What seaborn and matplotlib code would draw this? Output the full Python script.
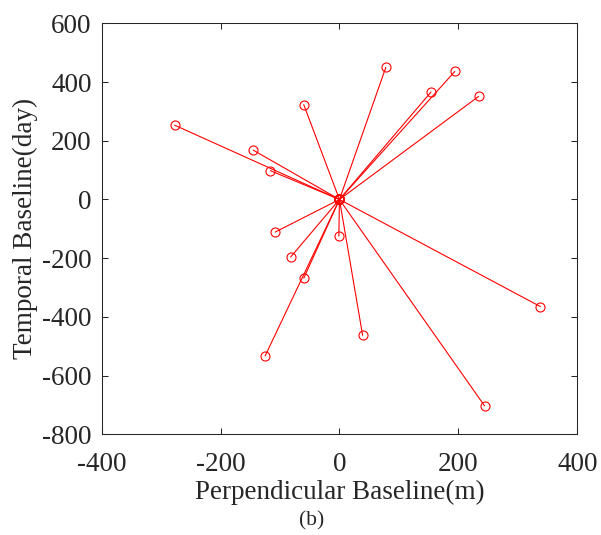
import seaborn as sns
import matplotlib.pyplot as plt
import pandas as pd

# master image sits at the origin, slaves
master_perp = 0
master_temp = 0
perp = [-277, -145, -116, -60, 78, 154, 194, 234, -1, -108, -82, -60, -125, 39, 338, 244]
temp = [253, 168, 98, 323, 450, 366, 436, 351, -125, -111, -196, -268, -533, -463, -365, -703]

x_ticks = [-400, -200, 0, 200, 400]
y_ticks = [-800, -600, -400, -200, 0, 200, 400, 600]

# one short line per master-slave pair
rows = []
for i, (p, t) in enumerate(zip(perp, temp)):
    rows.append({'pair': i, 'perp': master_perp, 'temp': master_temp})
    rows.append({'pair': i, 'perp': p, 'temp': t})
df = pd.DataFrame(rows)

sns.set_style('ticks')
plt.rcParams['font.family'] = ['Liberation Serif', 'DejaVu Serif']
plt.rcParams['axes.unicode_minus'] = False

fig = plt.figure(figsize=(6.01, 5.35), dpi=100)
ax = fig.add_axes([0.169, 0.1882, 0.7916, 0.7682])

sns.lineplot(data=df, x='perp', y='temp', units='pair', estimator=None,
             sort=False, color='red', linewidth=0.8, marker='o',
             markersize=6.5, markerfacecolor='none', markeredgecolor='red',
             markeredgewidth=0.8, ax=ax)

ax.set_xlim(-400, 400)
ax.set_ylim(-800, 600)
ax.set_xticks(x_ticks)
ax.set_yticks(y_ticks)

for s in ax.spines.values():
    s.set_visible(True)
    s.set_color('#262626')
    s.set_linewidth(0.75)

ax.tick_params(direction='in', top=True, right=True, length=4, width=0.75,
               color='#262626', labelsize=19.5, labelcolor='#262626')
ax.tick_params(axis='x', pad=12.5)
ax.tick_params(axis='y', pad=7)

ax.set_xlabel('Perpendicular Baseline(m)', fontsize=19.5, color='#262626')
ax.set_ylabel('Temporal Baseline(day)', fontsize=19.5, color='#262626')
ax.xaxis.set_label_coords(0.5, -0.112)
ax.yaxis.set_label_coords(-0.134, 0.5)

fig.text(0.518, 0.027, '(b)', fontsize=15.5, ha='center', va='center', color='#262626')

fig.savefig('out.png', dpi=100)
